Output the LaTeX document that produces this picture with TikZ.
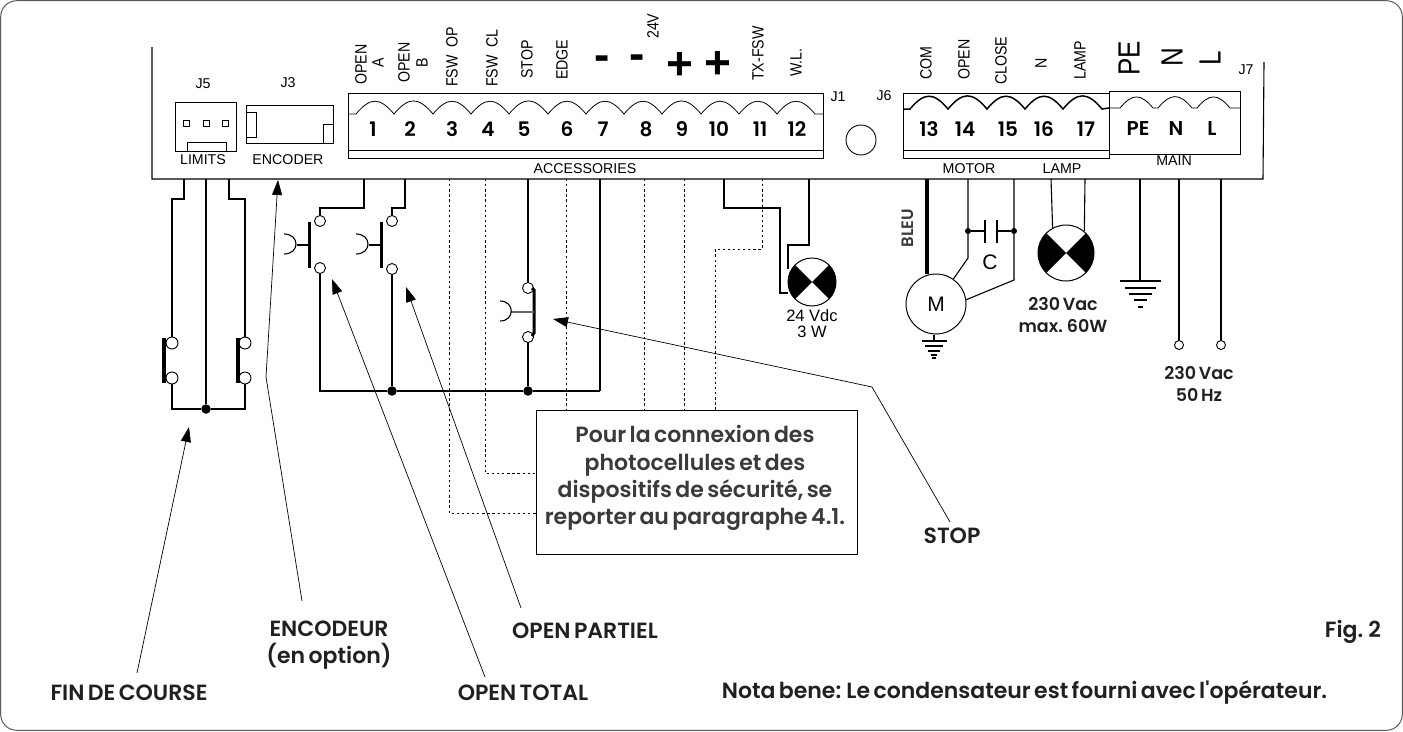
\documentclass[tikz,border=0pt]{standalone}
\usepackage{fontspec}
\usepackage{xcolor}
\usetikzlibrary{positioning}
\usetikzlibrary{arrows.meta}
\setmainfont{Liberation Sans}
\newfontfamily\gothic[WordSpace=0.65,BoldFont={Poppins SemiBold}]{Poppins}
\definecolor{boxgrey}{HTML}{3A3A3C}
\definecolor{noteblack}{HTML}{231F20}
\tikzset{
    wire/.style={line width=1.1pt},
    thickwire/.style={line width=4pt},
    dotwire/.style={line width=1pt, dash pattern=on 2.3pt off 2.8pt},
    pointer/.style={line width=0.7pt, -{Triangle[length=15pt,width=10pt]}},
    pinbox/.style={draw, rectangle, inner sep=0pt, line width=1pt},
    terminal/.style={circle, draw, fill=white, inner sep=0pt, minimum size=11pt, line width=0.9pt},
    limitterm/.style={terminal, minimum size=12pt},
    smallterm/.style={terminal, minimum size=9pt},
    junction/.style={circle, fill=black, inner sep=0pt, minimum size=9.5pt},
    capdot/.style={circle, fill=black, inner sep=0pt, minimum size=6pt},
    lampnode/.style={circle, draw, inner sep=0pt, line width=1pt, path picture={
        \fill[black] (path picture bounding box.north west) -- (path picture bounding box.south east)
            -- (path picture bounding box.north east) -- (path picture bounding box.south west) -- cycle;}},
    bump/.style={bend left=50, looseness=1.5},
    small/.style={inner sep=0pt, font=\fontsize{14.2}{16}\selectfont},
    vsmall/.style={small, rotate=90, yscale=1.15, anchor=west},
    big/.style={inner sep=0pt, rotate=90, yscale=1.18, anchor=west, font=\fontsize{26}{28}\selectfont},
    sign/.style={inner sep=0pt, font=\bfseries\fontsize{46}{48}\selectfont},
    pinnum/.style={inner sep=0pt, font=\gothic\bfseries\fontsize{20}{22}\selectfont},
    rating/.style={inner sep=0pt, text=noteblack, font=\gothic\bfseries\fontsize{17.5}{20}\selectfont},
    callout/.style={inner sep=0pt, text=noteblack, font=\gothic\bfseries\fontsize{22}{24}\selectfont},
}

\begin{document}
\begin{tikzpicture}[x=1pt, y=-1pt]
    \useasboundingbox (0,0) rectangle (1403,731);
    % Outer frame and board
    \draw[line width=1pt, black!65, rounded corners=16pt] (0.7,0.7) rectangle (1402.3,730.3);
    \draw[line width=1.1pt] (152,47) -- (152,179) -- (1263,179) -- (1264,62);

    % Connectors J5, J3
    \node[pinbox, minimum width=61, minimum height=49] (j5) at (205.5,126.5) {};
    \node[pinbox, minimum width=6, minimum height=6] (p1) at (186,123) {};
    \node[pinbox, minimum width=6, minimum height=6] (p2) at (206,123) {};
    \node[pinbox, minimum width=6, minimum height=6] (p3) at (225,123) {};
    \node[pinbox, minimum width=39, minimum height=9] (notch) at (206.5,146.5) {};
    \node[pinbox, minimum width=87, minimum height=38] (j3) at (289.5,124) {};
    \node[pinbox, minimum width=10, minimum height=25] (j3l) at (251,124.5) {};
    \node[pinbox, minimum width=10, minimum height=19] (j3r) at (328,133.5) {};
    \node[small] (lj5) at (203,84) {J5};
    \node[small] (lj3) at (288,83) {J3};
    \node[small] (llimits) at (203,160) {LIMITS};
    \node[small] (lencoder) at (288,160) {ENCODER};

    % Strip J1
    \node[pinbox, minimum width=475, minimum height=65] (j1) at (585.5,125.5) {};
    \draw[line width=1pt] (j1.west |- 0,150) -- (j1.east |- 0,150);
    \draw[line width=0.8pt] (348,114) -- (356,114) to[bump] (394,114) to[bump] (433,114) to[bump] (471,114)
        to[bump] (509,114) to[bump] (548,114) to[bump] (586,114) to[bump] (624,114) to[bump] (662,114)
        to[bump] (701,114) to[bump] (739,114) to[bump] (777,114) to[bump] (815,114) -- (823,114);
    \node[pinnum] (n1) at (373,129) {1};
    \node[pinnum] (n2) at (410,129) {2};
    \node[pinnum] (n3) at (452,129) {3};
    \node[pinnum] (n4) at (488,129) {4};
    \node[pinnum] (n5) at (524,129) {5};
    \node[pinnum] (n6) at (567,129) {6};
    \node[pinnum] (n7) at (603,129) {7};
    \node[pinnum] (n8) at (646,129) {8};
    \node[pinnum] (n9) at (682,129) {9};
    \node[pinnum] (n10) at (719,129) {10};
    \node[pinnum] (n11) at (760,129) {11};
    \node[pinnum] (n12) at (797,129) {12};
    \node[vsmall] (lopena) at (361,85) {OPEN};
    \node[small, rotate=90, yscale=1.15] (la) at (378,63) {A};
    \node[vsmall] (lopenb) at (404,83) {OPEN};
    \node[small, rotate=90, yscale=1.15] (lb) at (422,63) {B};
    \node[vsmall] (lfswop) at (452,87) {FSW\ \ OP};
    \node[vsmall] (lfswcl) at (492,87) {FSW\ \ CL};
    \node[vsmall] (lstop) at (527,79) {STOP};
    \node[vsmall] (ledge) at (562,80) {EDGE};
    \node[sign] (minus1) at (602,63) {-};
    \node[sign] (minus2) at (637,62) {-};
    \node[vsmall] (l24v) at (653,39) {24V};
    \node[sign] (plus1) at (680,66) {+};
    \node[sign] (plus2) at (718,65) {+};
    \node[vsmall] (ltxfsw) at (758,81) {TX-FSW};
    \node[vsmall] (lwl) at (796,77) {W.L.};
    \node[small] (lj1) at (838,97) {J1};
    \node[small] (lj6) at (884,96) {J6};
    \node[circle, draw, inner sep=0pt, minimum size=30, line width=0.9pt] (hole) at (861,140) {};

    % Strips J6, J7
    \node[pinbox, minimum width=206, minimum height=65] (j6) at (1006,125.5) {};
    \draw[line width=1pt] (j6.west |- 0,150) -- (j6.east |- 0,150);
    \node[pinbox, fill=white, minimum width=131, minimum height=63] (j7) at (1174.5,122.5) {};
    \draw[line width=1.5pt] (903,109) -- (910,109) to[bump] (948,109) to[bump] (987,109) to[bump] (1025,109)
        to[bump] (1063,109) to[bump] (1102,109) -- (1109,108);
    \draw[line width=0.8pt] (1109,108) -- (1120,108) to[bump] (1153,108) -- (1158,108) to[bump] (1192,108)
        -- (1197,108) to[bump] (1230,108) -- (1240,108);
    \node[pinnum] (n13) at (929,129) {13};
    \node[pinnum] (n14) at (965,129) {14};
    \node[pinnum] (n15) at (1008,129) {15};
    \node[pinnum] (n16) at (1044,129) {16};
    \node[pinnum] (n17) at (1086,129) {17};
    \node[pinnum] (npe) at (1138,129) {PE};
    \node[pinnum] (nn) at (1176,129) {N};
    \node[pinnum] (nl) at (1212,129) {L};
    \node[vsmall] (lcom) at (926,80) {COM};
    \node[vsmall] (lopen) at (964,80) {OPEN};
    \node[vsmall] (lclose) at (1001,85) {CLOSE};
    \node[vsmall] (ln) at (1041,69) {N};
    \node[vsmall] (llamp) at (1080,80) {LAMP};
    \node[big] (bpe) at (1129,76) {PE};
    \node[big] (bn) at (1172,67) {N};
    \node[big] (bl) at (1210,66) {L};
    \node[small] (lj7) at (1246,70) {J7};
    \node[small] (laccess) at (585,169) {ACCESSORIES};
    \node[small] (lmotor) at (969,169) {MOTOR};
    \node[small] (llamp2) at (1062,169) {LAMP};
    \node[small] (lmain) at (1174,161) {MAIN};

    % Limit switches
    \coordinate (xl1) at (184,179);
    \coordinate (xl2) at (206,179);
    \coordinate (xl3) at (229,179);
    \coordinate (bl1) at (172,199);
    \coordinate (bl3) at (245,199);
    \node[limitterm] (tl1) at (172,343) {};
    \node[limitterm] (tl2) at (172,378) {};
    \node[limitterm] (tr1) at (245,343) {};
    \node[limitterm] (tr2) at (245,378) {};
    \node[junction] (dl) at (206,409) {};
    \draw[thickwire] (164,338) -- (164,383);
    \draw[thickwire] (238,338) -- (238,383);
    \draw[wire] (xl1) |- (bl1) -- (tl1);
    \draw[wire] (xl3) |- (bl3) -- (tr1);
    \draw[wire] (xl2) -- (dl);
    \draw[wire] (tl2) |- (dl);
    \draw[wire] (tr2) |- (dl);

    % Push buttons OPEN A, OPEN B, STOP
    \coordinate (xa) at (364,179);
    \coordinate (xb) at (405,179);
    \coordinate (xs) at (528,179);
    \coordinate (xc) at (600,179);
    \coordinate (ba) at (320,208);
    \coordinate (bb) at (392,208);
    \coordinate (bc) at (600,391);
    \node[terminal] (ta1) at (320,221) {};
    \node[terminal] (ta2) at (320,268) {};
    \node[terminal] (tb1) at (392,221) {};
    \node[terminal] (tb2) at (392,269) {};
    \node[terminal] (ts1) at (528,288) {};
    \node[terminal] (ts2) at (528,337) {};
    \node[junction] (dj1) at (392,391) {};
    \node[junction] (dj2) at (528,391) {};
    \draw[line width=3pt] (309,222) -- (309,268);
    \draw[line width=3pt] (381,222) -- (381,268);
    \draw[line width=3pt] (532,288) -- (534,290) -- (534,333) -- (532,336);
    \draw[wire] (297,245) -- (309,245);
    \draw[wire] (369,245) -- (381,245);
    \draw[wire, black!60] (511,312) -- (534,312);
    \draw[wire] (284,234) .. controls (300,234) and (300,254) .. (284,254);
    \draw[wire] (356,234) .. controls (372,234) and (372,254) .. (356,254);
    \draw[wire] (500,301) .. controls (515,301) and (515,321) .. (500,321);
    \draw[wire] (xa) |- (ba) -- (ta1);
    \draw[wire] (xb) |- (bb) -- (tb1);
    \draw[wire] (xs) -- (ts1);
    \draw[wire] (ts2) -- (dj2);
    \draw[wire] (tb2) -- (dj1);
    \draw[wire] (ta2) |- (dj1);
    \draw[wire] (dj1) -- (dj2);
    \draw[wire] (dj2) -- (bc);
    \draw[wire] (bc) -- (xc);

    % Note box and dotted wires
    \node[draw, line width=1pt, fill=white, minimum width=321, minimum height=144, inner sep=0pt] (note) at (696.5,482) {};
    \node[inner sep=0pt, text=boxgrey, font=\gothic\bfseries\fontsize{22}{27.2}\selectfont, align=center] (notetext) at (695,478)
        {Pour la connexion des\\photocellules et des\\dispositifs de sécurité, se\\reporter au paragraphe 4.1.};
    \coordinate (xd1) at (449,179);
    \coordinate (xd2) at (485,179);
    \coordinate (xd3) at (566,179);
    \coordinate (xd4) at (644,179);
    \coordinate (xd5) at (684,179);
    \coordinate (xd6) at (762,179);
    \coordinate (bd1) at (449,513);
    \coordinate (bd2) at (485,473);
    \coordinate (bd6) at (715,249);
    \draw[dotwire] (xd1) |- (note.west |- bd1);
    \draw[dotwire] (xd2) |- (note.west |- bd2);
    \draw[dotwire] (xd3) -- (note.north -| xd3);
    \draw[dotwire] (xd4) -- (note.north -| xd4);
    \draw[dotwire] (xd5) -- (note.north -| xd5);
    \draw[dotwire] (xd6) |- (bd6) -- (note.north -| bd6);

    % Lamp 24 V
    \coordinate (xw1) at (724,179);
    \coordinate (xw2) at (809,179);
    \coordinate (bw1) at (780,208);
    \coordinate (bw2) at (780,293);
    \coordinate (bw3) at (788,245);
    \coordinate (bw4) at (788,269);
    \node[lampnode, minimum size=48] (lamp1) at (812,282) {};
    \draw[wire] (xw1) |- (bw1) -- (bw2) -- (lamp1.west |- bw2);
    \draw[wire] (xw2) |- (bw3) -- (bw4);
    \node[inner sep=0pt, font=\fontsize{16.5}{16}\selectfont, align=center] (l24vdc) at (812,324) {24 Vdc\\3 W};

    % Motor
    \coordinate (xm1) at (927,179);
    \coordinate (xm2) at (968,179);
    \coordinate (xm3) at (1014,179);
    \coordinate (bm2) at (968,258);
    \coordinate (bm3) at (1014,280);
    \coordinate (em) at (934,341);
    \node[circle, draw, line width=1pt, inner sep=0pt, minimum size=60, font=\fontsize{21}{22}\selectfont] (motor) at (936,304) {M};
    \node[capdot] (dc1) at (968,231) {};
    \node[capdot] (dc2) at (1014,231) {};
    \node[inner sep=0pt, font=\gothic\bfseries\fontsize{16.5}{18}\selectfont, rotate=90, text=boxgrey] (lbleu) at (908,228) {BLEU};
    \node[inner sep=0pt, font=\fontsize{21}{22}\selectfont] (lc) at (990,262) {C};
    \draw[thickwire] (xm1) -- (motor.north -| xm1);
    \draw[wire] (xm2) -- (bm2) -- (motor);
    \draw[wire] (xm3) -- (bm3) -- (motor.8);
    \draw[wire] (dc1) -- (985,231);
    \draw[wire] (997,231) -- (dc2);
    \draw[wire] (985,220) -- (985,243);
    \draw[wire] (997,220) -- (997,243);
    \draw[wire] (motor.south -| em) -- (em);
    \draw[wire] (922,341) -- (947,341);
    \draw[wire] (925,346) -- (943,346);
    \draw[wire] (928,351) -- (940,351);
    \draw[wire] (931,355) -- (937,355);
    \draw[wire] (932,358) -- (936,358);

    % Lamp 230 V
    \coordinate (xp1) at (1051,179);
    \coordinate (xp2) at (1085,179);
    \node[lampnode, minimum size=56] (lamp2) at (1066,253) {};
    \draw[wire] (xp1) -- (lamp2.118);
    \draw[wire] (xp2) -- (lamp2.50);
    \node[rating, align=center] (l230a) at (1063,315) {230 Vac\\[2pt]max. 60W};

    % Mains
    \coordinate (xe) at (1140,179);
    \coordinate (ee) at (1140,281);
    \coordinate (xn) at (1179,179);
    \coordinate (xf) at (1221,179);
    \node[smallterm] (tn) at (1179,345) {};
    \node[smallterm] (tf) at (1221,345) {};
    \draw[wire] (xe) -- (ee);
    \draw[wire] (xn) -- (tn);
    \draw[wire] (xf) -- (tf);
    \draw[wire] (1120,281) -- (1161,281);
    \draw[wire] (1125,288) -- (1156,288);
    \draw[wire] (1129,294) -- (1152,294);
    \draw[wire] (1134,300) -- (1147,300);
    \draw[wire] (1138,307) -- (1143,307);
    \node[rating, align=center] (l230b) at (1199,384) {230 Vac\\[2pt]50 Hz};

    % Callouts
    \node[callout] (cfin) at (129,693) {FIN DE COURSE};
    \node[callout, align=center] (cenc) at (329,645) {ENCODEUR\\[3pt](en option)};
    \node[callout] (ctotal) at (523,693) {OPEN TOTAL};
    \node[callout] (cpartiel) at (585,631) {OPEN PARTIEL};
    \node[callout] (cstop) at (952,536) {STOP};
    \node[callout] (cfig) at (1353,632) {Fig. 2};
    \node[callout] (cnote) at (1024.5,692) {Nota bene: Le condensateur est fourni avec l'opérateur.};
    \coordinate (afin) at (137,673);
    \coordinate (tfin) at (189,427);
    \coordinate (aenc) at (302,601);
    \coordinate (kenc) at (266,377);
    \coordinate (tenc) at (278,180);
    \coordinate (atot) at (485,677);
    \coordinate (ttot) at (332,279);
    \coordinate (apar) at (521,608);
    \coordinate (tpar) at (406,287);
    \coordinate (asto) at (950,522);
    \coordinate (ksto) at (872,387);
    \coordinate (tsto) at (553,319);
    \draw[pointer] (afin) -- (tfin);
    \draw[pointer] (aenc) -- (kenc) -- (tenc);
    \draw[pointer] (atot) -- (ttot);
    \draw[pointer] (apar) -- (tpar);
    \draw[pointer] (asto) -- (ksto) -- (tsto);
\end{tikzpicture}
\end{document}
